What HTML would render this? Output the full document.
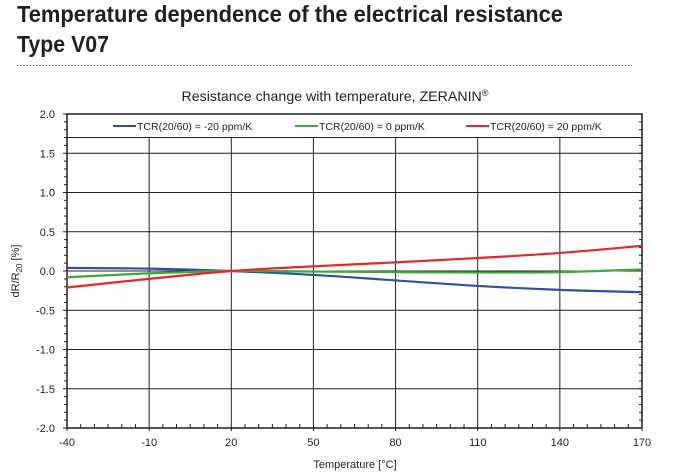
<!DOCTYPE html>
<html><head><meta charset="utf-8"><style>body{margin:0;background:#fff}svg{display:block}</style></head>
<body>
<svg id="s" width="674" height="474" xmlns="http://www.w3.org/2000/svg" font-family="Liberation Sans, sans-serif">
<text x="17" y="22" font-size="23" font-weight="bold" fill="#231f20" textLength="546" lengthAdjust="spacingAndGlyphs">Temperature dependence of the electrical resistance</text>
<text x="17" y="52" font-size="23" font-weight="bold" fill="#231f20" textLength="92" lengthAdjust="spacingAndGlyphs">Type V07</text>
<line x1="17" y1="65.5" x2="632" y2="65.5" stroke="#555" stroke-width="1" stroke-dasharray="1.2 2"/>
<text x="335" y="101" font-size="14" fill="#231f20" text-anchor="middle" textLength="307" lengthAdjust="spacingAndGlyphs">Resistance change with temperature, ZERANIN<tspan font-size="9" dy="-5">®</tspan></text>
<g id="g"></g>
</svg>
<script>
const L=67,R=642,T=114,B=428;
const X=t=>L+(t+40)*(R-L)/210, Y=v=>271-v*78.5;
let h='';
// grid horizontal
for(let v=-1.5;v<=1.51;v+=0.5){h+=`<line x1="${L}" x2="${R}" y1="${Y(v)}" y2="${Y(v)}" stroke="#231f20" stroke-width="1"/>`;}
for(let t=-10;t<170;t+=30){h+=`<line x1="${X(t)}" x2="${X(t)}" y1="138" y2="${B}" stroke="#231f20" stroke-width="1"/>`;}
// legend box bottom
h+=`<line x1="${L}" x2="${R}" y1="137.5" y2="137.5" stroke="#231f20" stroke-width="1"/>`;
// frame
h+=`<rect x="${L}" y="${T}" width="${R-L}" height="${B-T}" fill="none" stroke="#231f20" stroke-width="1.5"/>`;
// y ticks
for(let i=0;i<=40;i++){let y=T+i*(B-T)/40;let big=i%5==0;h+=`<line x1="${L-(big?4:3)}" x2="${L}" y1="${y}" y2="${y}" stroke="#231f20"/>`;h+=`<line x1="${R-3}" x2="${R}" y1="${y}" y2="${y}" stroke="#231f20"/>`;}
for(let i=0;i<=8;i++){let v=2-i*0.5;h+=`<text x="${L-12}" y="${Y(v)+4}" font-size="11" fill="#231f20" text-anchor="end">${v.toFixed(1)}</text>`;}
// x ticks
for(let i=0;i<=42;i++){let x=L+i*(R-L)/42;let big=i%6==0;h+=`<line x1="${x}" x2="${x}" y1="${B}" y2="${B-(big?0:4)}" stroke="#231f20"/><line x1="${x}" x2="${x}" y1="${B}" y2="${B+(big?3:0)}" stroke="#231f20"/>`;}
for(let t=-40;t<=170;t+=30){h+=`<text x="${X(t)}" y="446" font-size="11" fill="#231f20" text-anchor="middle">${t}</text>`;}
h+=`<text x="355" y="468" font-size="11" fill="#231f20" text-anchor="middle">Temperature [°C]</text>`;
h+=`<text transform="translate(19,271) rotate(-90)" font-size="11" fill="#231f20" text-anchor="middle">dR/R<tspan font-size="8" dy="3">20</tspan><tspan dy="-3">  [%]</tspan></text>`;
// curves
const T0=[-40,-10,20,50,80,110,140,170];
const S=[["#3050a0",[0.04,0.03,0,-0.05,-0.12,-0.19,-0.24,-0.27]],["#3aaa3a",[-0.08,-0.03,0,-0.006,-0.015,-0.02,-0.015,0.02]],["#e8262a",[-0.21,-0.10,0,0.06,0.11,0.165,0.23,0.32]]];
for(const [c,v] of S){let p=T0.map((t,i)=>[X(t),Y(v[i])]);let d=`M${p[0]}`;for(let i=0;i<p.length-1;i++){let p0=p[Math.max(i-1,0)],p1=p[i],p2=p[i+1],p3=p[Math.min(i+2,p.length-1)];let c1=[p1[0]+(p2[0]-p0[0])/6,p1[1]+(p2[1]-p0[1])/6],c2=[p2[0]-(p3[0]-p1[0])/6,p2[1]-(p3[1]-p1[1])/6];d+=` C${c1} ${c2} ${p2}`;}h+=`<path d="${d}" fill="none" stroke="${c}" stroke-width="2.2"/>`;}
// legend
const LG=[["#3050a0",113,"TCR(20/60) = -20 ppm/K"],["#3aaa3a",295,"TCR(20/60) = 0 ppm/K"],["#e8262a",466,"TCR(20/60) = 20 ppm/K"]];
for(const [c,x,s] of LG){h+=`<line x1="${x}" x2="${x+23}" y1="126" y2="126" stroke="${c}" stroke-width="2"/><text x="${x+24}" y="130" font-size="10.5" fill="#231f20">${s}</text>`;}
document.getElementById('g').innerHTML=h;
</script>
</body></html>
